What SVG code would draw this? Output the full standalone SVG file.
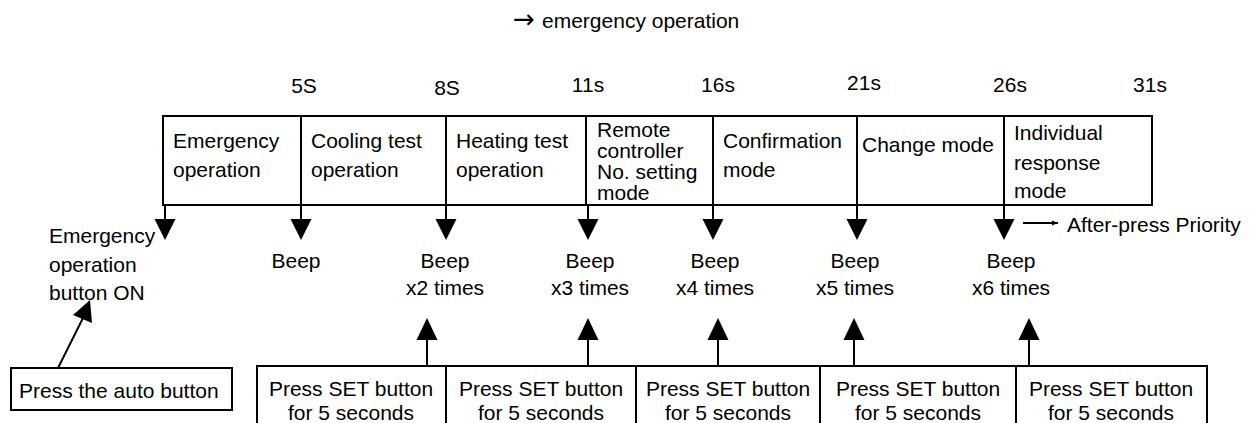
<svg xmlns="http://www.w3.org/2000/svg" width="1250" height="423" viewBox="0 0 1250 423">
<style>
text{font-family:"Liberation Sans",Arial,sans-serif;font-size:21px;fill:#000}
.c{text-anchor:middle}
.box{fill:#fff;stroke:#000;stroke-width:2}
.ln{stroke:#000;stroke-width:2;fill:none}
.hd{fill:#000;stroke:none}
</style>
<defs>
<marker id="sm" viewBox="0 0 10 10" refX="10" refY="5" markerWidth="6" markerHeight="6" markerUnits="userSpaceOnUse" orient="auto"><path d="M0,1 L10,5 L0,9 Z" fill="#000"/></marker>
</defs>
<rect width="1250" height="423" fill="#fff"/>
<text id="title" x="513" y="28" font-size="20"><tspan font-family="'DejaVu Sans',sans-serif" font-size="26">→</tspan><tspan x="542">emergency operation</tspan></text>
<g id="times">
<text class="c" x="304" y="93">5S</text>
<text class="c" x="447" y="95">8S</text>
<text class="c" x="588" y="92">11s</text>
<text class="c" x="718" y="92">16s</text>
<text class="c" x="864" y="90">21s</text>
<text class="c" x="1010" y="92">26s</text>
<text class="c" x="1150" y="92">31s</text>
</g>
<g id="modes">
<rect class="box" x="163" y="116" width="989" height="89"/>
<g class="ln"><path d="M301,116V205M446,116V205M586,116V205M713,116V205M857,116V205M1004,116V205"/></g>
<g id="m1"><text x="173" y="148">Emergency</text><text x="173" y="177">operation</text></g>
<g id="m2"><text x="311" y="148">Cooling test</text><text x="311" y="177">operation</text></g>
<g id="m3"><text x="456" y="148">Heating test</text><text x="456" y="177">operation</text></g>
<g id="m4"><text x="597" y="137">Remote</text><text x="597" y="158">controller</text><text x="597" y="179">No. setting</text><text x="597" y="200">mode</text></g>
<g id="m5"><text x="723" y="148">Confirmation</text><text x="723" y="177">mode</text></g>
<g id="m6"><text x="862" y="152">Change mode</text></g>
<g id="m7"><text x="1014" y="140">Individual</text><text x="1014" y="170">response</text><text x="1014" y="198">mode</text></g>
</g>
<g id="connectors">
<path class="ln" d="M165,205V220M301,205V220M446,205V220M588,205V220M713,205V220M857,205V220M1004,205V220"/>
<g class="hd">
<path d="M154.5,219H175.5L165,240Z"/>
<path d="M290.5,219H311.5L301,240Z"/>
<path d="M435.5,219H456.5L446,240Z"/>
<path d="M577.5,219H598.5L588,240Z"/>
<path d="M702.5,219H723.5L713,240Z"/>
<path d="M846.5,219H867.5L857,240Z"/>
<path d="M993.5,219H1014.5L1004,240Z"/>
</g>
<path class="ln" d="M427,366V339M588,366V339M718,366V339M854,366V339M1029,366V339"/>
<g class="hd">
<path d="M416.5,340H437.5L427,318Z"/>
<path d="M577.5,340H598.5L588,318Z"/>
<path d="M707.5,340H728.5L718,318Z"/>
<path d="M843.5,340H864.5L854,318Z"/>
<path d="M1018.5,340H1039.5L1029,318Z"/>
</g>
<path class="ln" d="M58,368L84,316"/>
<path class="hd" d="M90,300L73,315L92,323Z"/>
<path class="ln" d="M1023,223H1058" stroke-width="1.5" marker-end="url(#sm)"/>
</g>
<text id="after" x="1067" y="232" font-size="21.5">After-press Priority</text>
<g id="emerg-on"><text x="49" y="243">Emergency</text><text x="49" y="272">operation</text><text x="49" y="300">button ON</text></g>
<g id="beeps">
<text class="c" x="296" y="268">Beep</text>
<g><text class="c" x="445" y="268">Beep</text><text class="c" x="445" y="295">x2 times</text></g>
<g><text class="c" x="590" y="268">Beep</text><text class="c" x="590" y="295">x3 times</text></g>
<g><text class="c" x="715" y="268">Beep</text><text class="c" x="715" y="295">x4 times</text></g>
<g><text class="c" x="855" y="268">Beep</text><text class="c" x="855" y="295">x5 times</text></g>
<g><text class="c" x="1011" y="268">Beep</text><text class="c" x="1011" y="295">x6 times</text></g>
</g>
<g id="auto">
<rect class="box" x="11" y="368" width="221" height="42"/>
<text x="19" y="398">Press the auto button</text>
</g>
<g id="setbtns">
<rect class="box" x="257" y="366" width="950" height="70"/>
<path class="ln" d="M446,366V436M636,366V436M820,366V436M1016,366V436"/>
<g id="s1"><text class="c" x="351" y="396">Press SET button</text><text class="c" x="351" y="420">for 5 seconds</text></g>
<g id="s2"><text class="c" x="541" y="396">Press SET button</text><text class="c" x="541" y="420">for 5 seconds</text></g>
<g id="s3"><text class="c" x="728" y="396">Press SET button</text><text class="c" x="728" y="420">for 5 seconds</text></g>
<g id="s4"><text class="c" x="918" y="396">Press SET button</text><text class="c" x="918" y="420">for 5 seconds</text></g>
<g id="s5"><text class="c" x="1111" y="396">Press SET button</text><text class="c" x="1111" y="420">for 5 seconds</text></g>
</g>
</svg>
